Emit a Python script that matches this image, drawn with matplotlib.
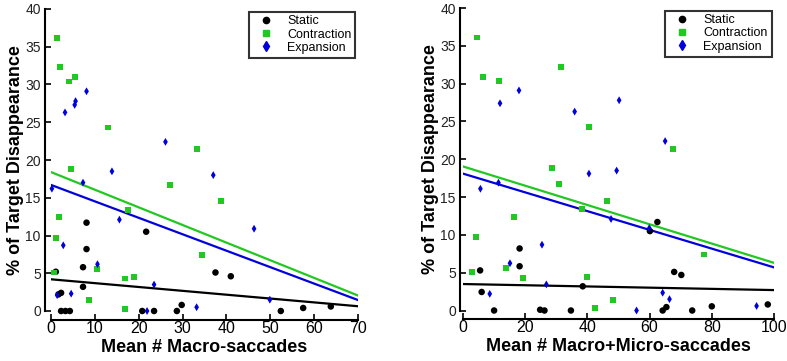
import numpy as np
import matplotlib
matplotlib.use("Agg")
import matplotlib.pyplot as plt
from matplotlib.lines import Line2D

plt.rcParams['font.family'] = ['Liberation Sans', 'DejaVu Sans']

# ---- left panel: mean # macro-saccades ----
macro_static_x = [8.1, 21.7, 8.1, 7.3, 1.1, 37.5, 41.0, 7.3, 2.3, 1.7, 2.3, 3.3, 4.3,
                  20.8, 23.5, 28.7, 29.8, 52.4, 57.5, 63.8]
macro_static_y = [11.7, 10.5, 8.2, 5.8, 5.2, 5.1, 4.6, 3.2, 2.4, 2.2, 0, 0, 0,
                  0, 0, 0, 0.8, 0, 0.4, 0.6]
macro_contr_x = [1.4, 2.0, 4.1, 5.4, 12.9, 4.5, 33.2, 27.1, 38.8, 17.6, 1.8, 1.2,
                 0.75, 10.5, 16.8, 19.0, 34.4, 8.7, 16.8]
macro_contr_y = [36.2, 32.3, 30.4, 31.0, 24.3, 18.8, 21.4, 16.7, 14.6, 13.4, 12.5, 9.7,
                 5.1, 5.6, 4.3, 4.5, 7.4, 1.4, 0.3]
macro_exp_x = [8.1, 5.6, 5.4, 3.2, 26.1, 13.9, 37.0, 7.3, 0.2, 15.6, 46.3, 2.8, 10.6,
               23.5, 1.4, 4.6, 49.9, 33.2, 21.9]
macro_exp_y = [29.1, 27.8, 27.3, 26.3, 22.4, 18.5, 18.0, 17.0, 16.2, 12.1, 10.9, 8.7, 6.2,
               3.5, 2.1, 2.3, 1.5, 0.5, 0]
# fitted lines: (value at x=0, value at x=max)
macro_fit = {'static': (4.2, 0.63), 'contr': (18.4, 2.05), 'exp': (16.7, 1.45)}

# ---- right panel: mean # macro+micro-saccades ----
all_static_x = [62.5, 60.1, 18.2, 18.2, 5.5, 67.9, 70.2, 38.5, 6.0, 10.0, 24.8, 26.2,
                34.7, 64.2, 65.4, 73.7, 80.0, 98.0]
all_static_y = [11.7, 10.5, 8.2, 5.85, 5.3, 5.1, 4.7, 3.2, 2.45, 0, 0.1, 0,
                0, 0, 0.45, 0, 0.55, 0.8]
all_contr_x = [4.6, 6.5, 11.5, 31.6, 40.5, 28.5, 67.6, 31.0, 46.2, 38.2, 16.5, 4.3,
               2.8, 13.7, 19.2, 40.0, 77.6, 48.1, 42.5]
all_contr_y = [36.1, 30.9, 30.3, 32.2, 24.3, 18.8, 21.4, 16.7, 14.5, 13.4, 12.4, 9.7,
               5.1, 5.6, 4.3, 4.4, 7.4, 1.4, 0.3]
all_exp_x = [18.0, 11.9, 35.9, 50.2, 65.0, 40.5, 49.4, 11.4, 5.6, 47.6, 59.9, 25.4,
             15.1, 26.8, 8.6, 64.2, 66.4, 55.8, 94.4]
all_exp_y = [29.1, 27.4, 26.3, 27.8, 22.4, 18.1, 18.5, 16.9, 16.1, 12.1, 10.9, 8.7,
             6.25, 3.45, 2.2, 2.35, 1.5, 0, 0.6]
all_fit = {'static': (3.5, 2.7), 'contr': (19.05, 6.3), 'exp': (18.1, 5.7)}

colors = {'static': 'black', 'contr': '#22c822', 'exp': '#0000dd'}
markers = {'static': 'o', 'contr': 's', 'exp': 'd'}
sizes = {'static': 22, 'contr': 18, 'exp': 16}
labels = {'static': 'Static', 'contr': 'Contraction', 'exp': 'Expansion'}

narrow = ['Liberation Sans Narrow', 'Liberation Sans', 'DejaVu Sans']

fig = plt.figure(figsize=(7.87, 3.61), dpi=100)
ax1 = fig.add_axes([51 / 787, 1 - 311 / 361, 307 / 787, 302 / 361])
ax2 = fig.add_axes([463 / 787, 1 - 310.5 / 361, 311 / 787, 302.5 / 361])

panels = [
    (ax1, 70, 10, macro_static_x, macro_static_y, macro_contr_x, macro_contr_y,
     macro_exp_x, macro_exp_y, macro_fit, 'Mean # Macro-saccades', (4.3, 6.5)),
    (ax2, 100, 20, all_static_x, all_static_y, all_contr_x, all_contr_y,
     all_exp_x, all_exp_y, all_fit, 'Mean # Macro+Micro-saccades', (2.2, 6.2)),
]

for ax, xmax, xstep, sx, sy, cx, cy, ex, ey, fit, xlabel, offs in panels:
    data = {'static': (sx, sy), 'contr': (cx, cy), 'exp': (ex, ey)}
    for key in ['static', 'contr', 'exp']:
        ax.scatter(data[key][0], data[key][1], s=sizes[key], marker=markers[key],
                   color=colors[key], edgecolors='none', clip_on=False, zorder=3)
    for key in ['static', 'exp', 'contr']:
        ax.plot([0, xmax], list(fit[key]), color=colors[key], lw=1.6, zorder=2)

    ax.set_xlim(0, xmax)
    ax.set_ylim(0, 40)
    ax.set_xticks(np.arange(0, xmax + 1, xstep))
    ax.set_yticks(np.arange(0, 41, 5))
    for s in ['top', 'right']:
        ax.spines[s].set_visible(False)
    ax.spines['left'].set_position(('outward', offs[0]))
    ax.spines['bottom'].set_position(('outward', offs[1]))
    ax.spines['left'].set_bounds(0, 40)
    ax.spines['bottom'].set_bounds(0, xmax)
    ax.spines['left'].set_linewidth(1.5)
    ax.spines['bottom'].set_linewidth(1.5)
    ax.tick_params(direction='in', length=4, width=1.2, color='black')
    ax.tick_params(axis='y', labelsize=10, pad=3, labelcolor='#222222')
    ax.tick_params(axis='x', labelsize=11.5, pad=1)
    for t in ax.get_xticklabels():
        t.set_family(narrow)
    ax.set_xlabel(xlabel, family=narrow, fontweight='bold', fontsize=13, labelpad=2)
    ax.set_ylabel('% of Target Disappearance', fontweight='bold', fontsize=13, labelpad=1)

    handles = [Line2D([], [], ls='none', marker=markers[k], color=colors[k],
                      markersize=4.5 if k != 'exp' else 5) for k in ['static', 'contr', 'exp']]
    leg = ax.legend(handles, [labels[k] for k in ['static', 'contr', 'exp']],
                    loc='upper right', bbox_to_anchor=(1.0, 1.0), fontsize=9,
                    frameon=True, fancybox=False, borderpad=0.3, labelspacing=0.1,
                    handletextpad=0.6, handlelength=2.2, borderaxespad=0.2)
    leg.get_frame().set_edgecolor('black')
    leg.get_frame().set_linewidth(1.5)

fig.savefig('out.png', dpi=100)
